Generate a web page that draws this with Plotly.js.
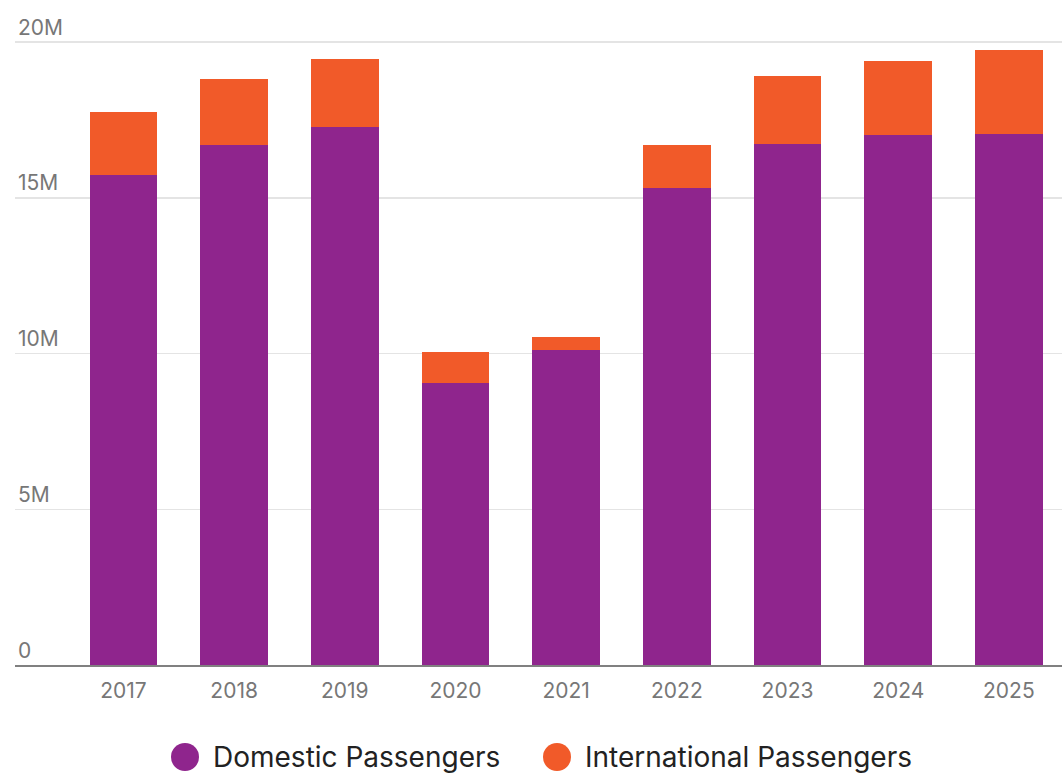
<!DOCTYPE html>
<html>
<head>
<meta charset="utf-8">
<script src="https://cdn.plot.ly/plotly-3.0.1.min.js"></script>
<style>html,body{margin:0;padding:0;background:#fff;}#chart{width:1062px;height:773px;}</style>
</head>
<body>
<div id="chart"></div>
<script>
const years = ["2017","2018","2019","2020","2021","2022","2023","2024","2025"];
const domestic = [15.74, 16.69, 17.27, 9.04, 10.10, 15.31, 16.74, 17.00, 17.06];
const international = [2.01, 2.12, 2.17, 1.00, 0.43, 1.37, 2.17, 2.39, 2.70];
const seriesNames = ["Domestic Passengers", "International Passengers"];
const seriesColors = ["#8f258d", "#f15a29"];
const yTickVals = [0, 5, 10, 15, 20];
const yTickText = ["0", "5M", "10M", "15M", "20M"];

const FONT = "Inter, 'Open Sans', sans-serif";

const W = 1062, H = 773;
const M = {l: 15, r: 0, t: 14, b: 108};
const pw = W - M.l - M.r, ph = H - M.t - M.b;
const px2x = p => (p - M.l) / pw;
const py2y = p => (H - M.b - p) / ph;

const traces = [
  {type: "bar", x: years, y: domestic, name: seriesNames[0], marker: {color: seriesColors[0]}, showlegend: false, hoverinfo: "skip"},
  {type: "bar", x: years, y: international, name: seriesNames[1], marker: {color: seriesColors[1]}, showlegend: false, hoverinfo: "skip"}
];

const legendPos = [{c: 185, t: 211}, {c: 557, t: 583}];
const legendAnn = [];
const legendShapes = [];
seriesNames.forEach((n, i) => {
  legendShapes.push({
    type: "circle", xref: "paper", yref: "paper",
    xsizemode: "pixel", ysizemode: "pixel",
    xanchor: px2x(legendPos[i].c), yanchor: py2y(757),
    x0: -14, x1: 14, y0: -14, y1: 14,
    fillcolor: seriesColors[i], line: {width: 0}
  });
  legendAnn.push({
    xref: "paper", yref: "paper", x: px2x(legendPos[i].t), y: py2y(757),
    xanchor: "left", yanchor: "middle", showarrow: false,
    text: n, font: {family: FONT, size: 28, color: "#222"}
  });
});

const layout = {
  width: W, height: H,
  margin: M,
  paper_bgcolor: "#fff", plot_bgcolor: "#fff",
  barmode: "stack",
  bargap: 0.39,
  showlegend: false,
  font: {family: FONT, color: "#777"},
  xaxis: {
    type: "category",
    range: [-0.98, 8.48],
    showgrid: false, zeroline: false,
    showline: true, linecolor: "#808080", linewidth: 2,
    ticks: "", ticklabelstandoff: 6,
    tickfont: {family: FONT, size: 21, color: "#777"},
    fixedrange: true
  },
  yaxis: {
    range: [0, 20.9],
    tickvals: yTickVals, ticktext: yTickText,
    ticklabelposition: "inside top",
    tickfont: {family: FONT, size: 21, color: "#777"},
    showgrid: true, gridcolor: "#e4e4e4", gridwidth: 1.5,
    zeroline: false, showline: false, ticks: "",
    fixedrange: true
  },
  shapes: legendShapes,
  annotations: legendAnn
};

Plotly.newPlot("chart", traces, layout, {staticPlot: true, displayModeBar: false});
</script>
</body>
</html>
